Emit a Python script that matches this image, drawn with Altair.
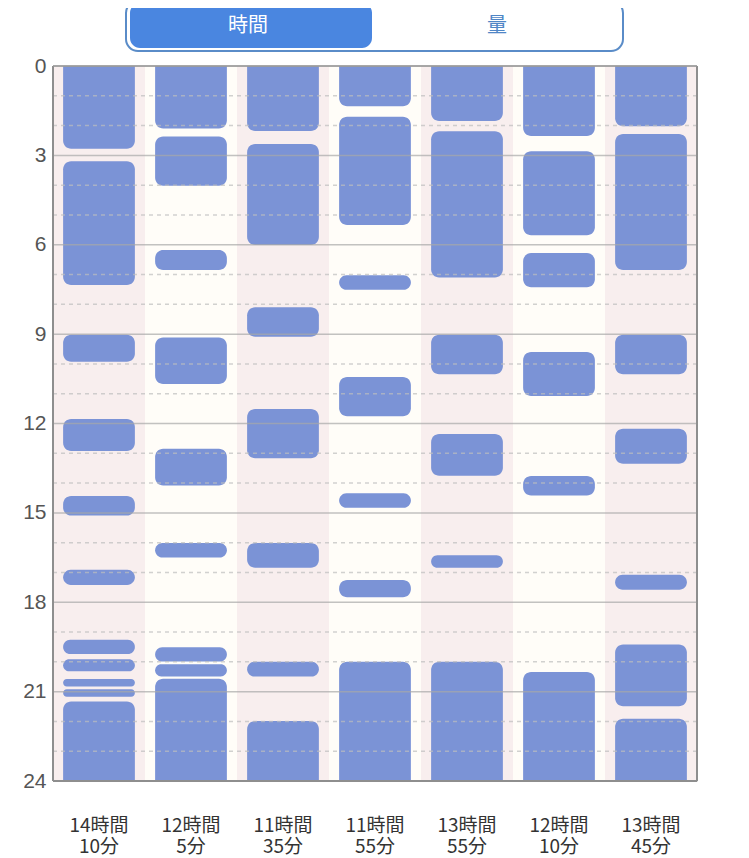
import altair as alt
import pandas as pd

# ---- data ----
days = ["14時間|10分", "12時間|5分", "11時間|35分", "11時間|55分",
        "13時間|55分", "12時間|10分", "13時間|45分"]

seg_day = ([0] * 11 + [1] * 9 + [2] * 7 + [3] * 7 + [4] * 6 + [5] * 6 + [6] * 7)
seg_start = [0, 3.20, 9.02, 11.85, 14.43, 16.91, 19.26, 19.91, 20.58, 20.92, 21.33,
             0, 2.37, 6.18, 9.11, 12.85, 16.01, 19.51, 20.08, 20.57,
             0, 2.62, 8.10, 11.51, 16.01, 20.00, 21.99,
             0, 1.70, 7.02, 10.44, 14.34, 17.25, 20.00,
             0, 2.19, 9.02, 12.35, 16.42, 20.00,
             0, 2.86, 6.28, 9.60, 13.76, 20.34,
             0, 2.28, 9.02, 12.18, 17.08, 19.42, 21.91]
seg_end = [2.78, 7.35, 9.93, 12.92, 15.09, 17.42, 19.74, 20.32, 20.83, 21.17, 24,
           2.10, 4.02, 6.85, 10.67, 14.08, 16.50, 19.99, 20.49, 24,
           2.18, 6.01, 9.09, 13.17, 16.84, 20.49, 24,
           1.35, 5.34, 7.51, 11.76, 14.83, 17.83, 24,
           1.85, 7.10, 10.35, 13.75, 16.84, 24,
           2.35, 5.68, 7.43, 11.08, 14.42, 24,
           2.02, 6.85, 10.35, 13.35, 17.58, 21.49, 24]

major_hours = [0, 3, 6, 9, 12, 15, 18, 21, 24]
minor_hours = [h for h in range(1, 24) if h % 3 != 0]

# ---- tables ----
seg = pd.DataFrame({
    "day": [days[i] for i in seg_day],
    "start": seg_start,
    "end": seg_end,
})
# segments that continue across the day boundary are drawn past the edge (clipped)
seg["s"] = seg["start"].where(seg["start"] > 0, -0.6)
seg["e"] = seg["end"].where(seg["end"] < 24, 24.6)

bg = pd.DataFrame({"day": days, "bg": ["a" if i % 2 == 0 else "b" for i in range(len(days))]})
major = pd.DataFrame({"h": major_hours})
minor = pd.DataFrame({"h": minor_hours})
one = pd.DataFrame({"k": [0]})

W, H = 644, 715
FONT = "Noto Sans CJK JP"

xscale = alt.Scale(domain=days, paddingInner=0, paddingOuter=0)
yscale = alt.Scale(domain=[0, 24], reverse=True, nice=False, zero=False)

xaxis = alt.Axis(title=None, ticks=False, domain=False, labelAngle=0,
                 labelExpr="split(datum.label, '|')", labelFont=FONT,
                 labelFontSize=19, labelLineHeight=21, labelColor="#333333",
                 labelPadding=35, labelFlush=False)
yaxis = alt.Axis(title=None, values=major_hours, ticks=False, domain=False,
                 grid=False, labelFont="Liberation Sans", labelFontSize=21,
                 labelColor="#555555", labelPadding=7, labelFlush=False,
                 labelOverlap=False)

background = alt.Chart(bg).mark_rect().encode(
    x=alt.X("day:N", scale=xscale, axis=xaxis, sort=days),
    y=alt.value(0), y2=alt.value(H),
    color=alt.Color("bg:N", scale=alt.Scale(domain=["a", "b"],
                                            range=["#f8eeee", "#fffdf8"]),
                    legend=None),
)

bars = alt.Chart(seg).mark_bar(color="#7b93d6", cornerRadius=8, clip=True,
                               width=alt.RelativeBandSize(0.78)).encode(
    x=alt.X("day:N", scale=xscale, sort=days),
    y=alt.Y("s:Q", scale=yscale, axis=yaxis),
    y2="e:Q",
)

minor_rules = alt.Chart(minor).mark_rule(color="#bdbdbd", strokeWidth=1.5,
                                         strokeDash=[4, 4], opacity=0.7).encode(
    y=alt.Y("h:Q", scale=yscale), x=alt.value(0), x2=alt.value(W))

major_rules = alt.Chart(major).mark_rule(color="#a8a8a8", strokeWidth=1.5,
                                         opacity=0.7).encode(
    y=alt.Y("h:Q", scale=yscale), x=alt.value(0), x2=alt.value(W))

frame_left = alt.Chart(one).mark_rule(color="#8e8e8e", strokeWidth=2).encode(
    x=alt.value(0), y=alt.value(0), y2=alt.value(H))
frame_right = alt.Chart(one).mark_rule(color="#8e8e8e", strokeWidth=2).encode(
    x=alt.value(W), y=alt.value(0), y2=alt.value(H))
frame_top = alt.Chart(one).mark_rule(color="#999999", strokeWidth=1.5).encode(
    y=alt.value(0), x=alt.value(0), x2=alt.value(W))
frame_bottom = alt.Chart(one).mark_rule(color="#8e8e8e", strokeWidth=2).encode(
    y=alt.value(H), x=alt.value(0), x2=alt.value(W))

# segmented control above the chart
ctrl_outer = alt.Chart(one).mark_rect(fill="white", stroke="#5a8cc8", strokeWidth=2,
                                      cornerRadius=12).encode(
    x=alt.value(73), x2=alt.value(570), y=alt.value(-65), y2=alt.value(-15))
ctrl_sel = alt.Chart(one).mark_rect(fill="#4a86e0", cornerRadius=10).encode(
    x=alt.value(77), x2=alt.value(319), y=alt.value(-63), y2=alt.value(-18))
ctrl_t1 = alt.Chart(one).mark_text(text="時間", font=FONT, fontSize=20,
                                   color="white", baseline="middle").encode(
    x=alt.value(195), y=alt.value(-40))
ctrl_t2 = alt.Chart(one).mark_text(text="量", font=FONT, fontSize=20,
                                   color="#4f86c6", baseline="middle").encode(
    x=alt.value(444), y=alt.value(-40))

chart = alt.layer(
    background, bars, minor_rules, major_rules,
    frame_left, frame_right, frame_top, frame_bottom,
    ctrl_outer, ctrl_sel, ctrl_t1, ctrl_t2,
).properties(
    width=W, height=H,
    autosize=alt.AutoSizeParams(type="none"),
    padding={"left": 45, "top": 58, "right": 30, "bottom": 84},
).configure_view(stroke=None).configure(background="white")

chart.save("out.html", embed_options={"renderer": "svg", "actions": False})
